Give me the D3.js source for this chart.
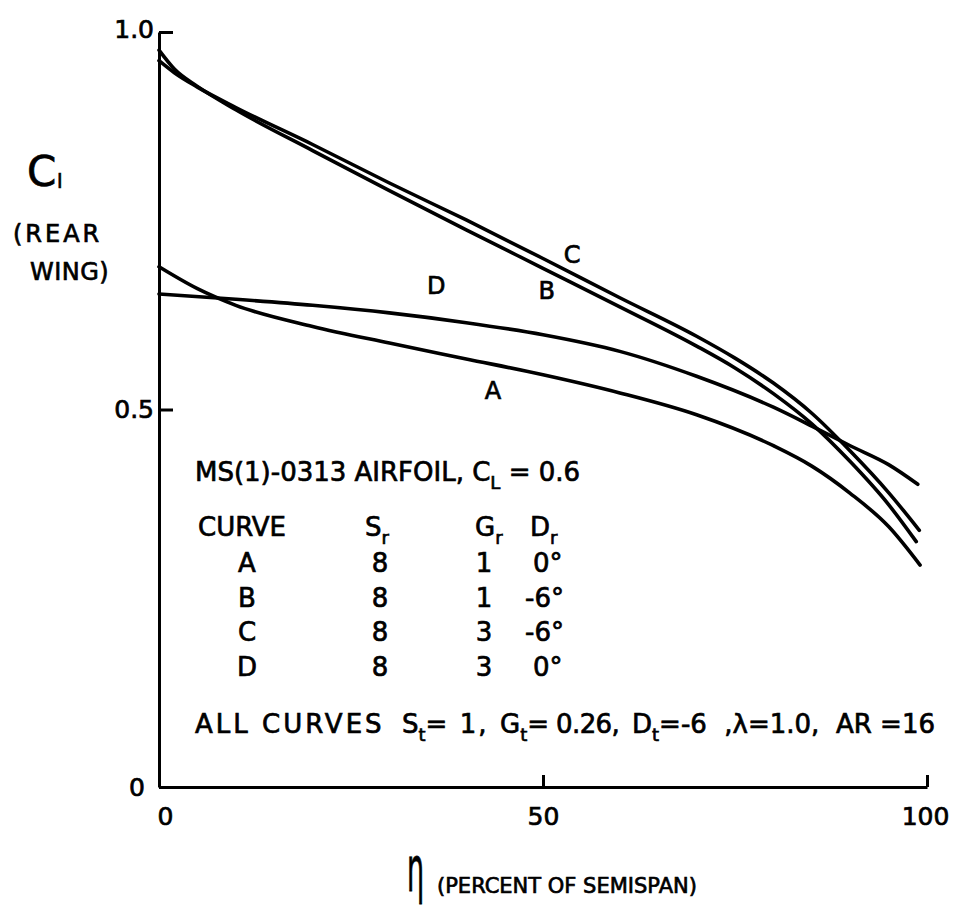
<!DOCTYPE html>
<html>
<head>
<meta charset="utf-8">
<script src="https://cdn.jsdelivr.net/npm/d3@7"></script>
<style>
  body { margin: 0; background: #fff; }
  svg { display: block; background: #fff; }
  text { font-family: "DejaVu Sans", sans-serif; fill: #000; stroke: #000; stroke-width: 0.7px; }
</style>
</head>
<body>
<svg id="chart" width="957" height="913"></svg>
<script>
// Spanwise lift distribution on the rear wing, eta in percent of semispan
const etaA = [0, 5, 10, 20, 30, 40, 50, 60, 70, 80, 85, 90, 95, 99.1];
const clA  = [0.689, 0.660, 0.638, 0.610, 0.588, 0.567, 0.546, 0.522, 0.493, 0.452, 0.425, 0.389, 0.345, 0.294];

const etaB = [0, 2, 5, 10, 20, 30, 40, 50, 60, 70, 75, 80, 85, 90, 95, 98.6];
const clB  = [0.976, 0.951, 0.928, 0.897, 0.843, 0.790, 0.738, 0.687, 0.636, 0.584, 0.555, 0.521, 0.481, 0.431, 0.374, 0.325];

const etaC = [0, 2, 5, 10, 20, 30, 40, 50, 60, 70, 75, 80, 85, 90, 95, 99];
const clC  = [0.962, 0.946, 0.927, 0.900, 0.851, 0.800, 0.751, 0.700, 0.648, 0.597, 0.568, 0.535, 0.495, 0.445, 0.390, 0.340];

const etaD = [0, 10, 20, 30, 40, 50, 60, 70, 80, 85, 90, 95, 98.8];
const clD  = [0.653, 0.646, 0.638, 0.628, 0.615, 0.599, 0.577, 0.544, 0.503, 0.478, 0.452, 0.427, 0.401];

// Curve tags placed along the lines
const curveNames = ["A", "B", "C", "D"];
const tagEta = [43.5, 50.5, 53.8, 36.1];
const tagCl  = [0.526, 0.658, 0.705, 0.664];

// Configuration table
const srValues = ["8", "8", "8", "8"];
const grValues = ["1", "1", "3", "3"];
const drValues = ["0°", "-6°", "-6°", "0°"];

// Axis ticks
const xTicks = [0, 50, 100];
const xTickLabels = ["0", "50", "100"];
const yTicks = [0, 0.5, 1.0];
const yTickLabels = ["0", "0.5", "1.0"];

const svg = d3.select("#chart");
const x = d3.scaleLinear().domain([0, 100]).range([159, 927]);
const y = d3.scaleLinear().domain([0, 1]).range([787, 32]);

const INK = "#000";

// ---- axes ----
const yAxis = d3.axisLeft(y)
  .tickValues(yTicks)
  .tickFormat((d, i) => yTickLabels[i])
  .tickSize(-14)
  .tickSizeOuter(0)
  .tickPadding(5);
const gy = svg.append("g")
  .attr("transform", `translate(${x(0)},0)`)
  .call(yAxis);

const xAxis = d3.axisBottom(x)
  .tickValues(xTicks)
  .tickFormat((d, i) => xTickLabels[i])
  .tickSize(-12)
  .tickSizeOuter(0)
  .tickPadding(20);
const gx = svg.append("g")
  .attr("transform", `translate(0,${y(0)})`)
  .call(xAxis);

[gx, gy].forEach(g => {
  g.attr("font-family", "DejaVu Sans, sans-serif").attr("font-size", 25);
  g.select(".domain").attr("stroke", INK).attr("stroke-width", 3);
  g.selectAll(".tick line").attr("stroke", INK).attr("stroke-width", 3);
  g.selectAll(".tick text").attr("fill", INK);
});
gy.selectAll(".tick text").filter(d => d === 0).attr("x", -14);
gy.selectAll(".tick text").filter(d => d === 1).attr("dy", "0.2em");
gx.selectAll(".tick text").filter(d => d === 0).attr("x", 6);
gx.selectAll(".tick text").filter(d => d === 100).attr("x", -2);

// ---- curves ----
const line = d3.line()
  .x(d => x(d[0]))
  .y(d => y(d[1]))
  .curve(d3.curveMonotoneX);

const series = [
  d3.zip(etaA, clA),
  d3.zip(etaB, clB),
  d3.zip(etaC, clC),
  d3.zip(etaD, clD)
];

svg.append("g").selectAll("path")
  .data(series)
  .join("path")
  .attr("d", line)
  .attr("fill", "none")
  .attr("stroke", INK)
  .attr("stroke-width", 3.6)
  .attr("stroke-linecap", "round")
  .attr("stroke-linejoin", "round");

svg.append("g").selectAll("text")
  .data(curveNames)
  .join("text")
  .attr("x", (d, i) => x(tagEta[i]))
  .attr("y", (d, i) => y(tagCl[i]))
  .attr("dy", "0.36em")
  .attr("text-anchor", "middle")
  .attr("font-size", 24)
  .text(d => d);

// ---- text with subscripts ----
function rich(parent, xPos, yPos, parts, size) {
  const t = parent.append("text")
    .attr("x", xPos)
    .attr("y", yPos)
    .attr("font-size", size);
  let shift = 0;
  parts.forEach(p => {
    const s = t.append("tspan").text(p.t);
    if (p.x !== undefined) { s.attr("x", p.x); }
    if (p.ls !== undefined) { s.attr("letter-spacing", p.ls); }
    const target = p.sub ? Math.round(size * 0.3) : 0;
    if (target !== shift) { s.attr("dy", target - shift); shift = target; }
    if (p.sub) s.attr("font-size", Math.round(size * 0.68));
  });
  return t;
}

const legend = svg.append("g");
const FS = 26;

rich(legend, 195, 481, [
  { t: "MS(1)-0313 AIRFOIL, C" }, { t: "L", sub: true }, { t: " = 0.6" }
], FS);

legend.append("text").attr("x", 198).attr("y", 536).attr("font-size", FS).text("CURVE");
rich(legend, 365, 536, [{ t: "S" }, { t: "r", sub: true }], FS);
rich(legend, 475, 536, [{ t: "G" }, { t: "r", sub: true }], FS);
rich(legend, 530, 536, [{ t: "D" }, { t: "r", sub: true }], FS);

const rowY = [572, 607, 641, 676];
curveNames.forEach((name, i) => {
  legend.append("text").attr("x", 247).attr("y", rowY[i]).attr("font-size", FS)
    .attr("text-anchor", "middle").text(name);
  legend.append("text").attr("x", 380).attr("y", rowY[i]).attr("font-size", FS)
    .attr("text-anchor", "middle").text(srValues[i]);
  legend.append("text").attr("x", 484).attr("y", rowY[i]).attr("font-size", FS)
    .attr("text-anchor", "middle").text(grValues[i]);
  legend.append("text").attr("x", drValues[i].startsWith("-") ? 525 : 533)
    .attr("y", rowY[i]).attr("font-size", FS).text(drValues[i]);
});

rich(legend, 195, 733, [
  { t: "ALL CURVES", ls: 3 },
  { t: "S", x: 402, ls: 0 }, { t: "t", sub: true }, { t: "= 1," , ls: 2 },
  { t: "G", x: 500, ls: 0 }, { t: "t", sub: true }, { t: "= 0.26,", ls: -0.6 },
  { t: "D", x: 632, ls: 0 }, { t: "t", sub: true }, { t: "=-6" },
  { t: " ,λ=1.0,", x: 716 },
  { t: "AR =16", x: 836 }
], FS);

// ---- axis titles ----
const yTitle = svg.append("g");
yTitle.append("text").attr("x", 27).attr("y", 186).attr("font-size", 42).text("C");
yTitle.append("text").attr("x", 57).attr("y", 188).attr("font-size", 20).text("l");
yTitle.append("text").attr("x", 13).attr("y", 242).attr("font-size", 24)
  .attr("letter-spacing", 3).text("(REAR");
yTitle.append("text").attr("x", 30).attr("y", 280).attr("font-size", 24)
  .attr("letter-spacing", 0.5).text("WING)");

svg.append("text")
  .attr("transform", "translate(407,891) scale(0.54,1.25)")
  .attr("font-size", 50)
  .text("η");
svg.append("text")
  .attr("x", 437).attr("y", 893)
  .attr("font-size", 21)
  .text("(PERCENT OF SEMISPAN)");
</script>
</body>
</html>
